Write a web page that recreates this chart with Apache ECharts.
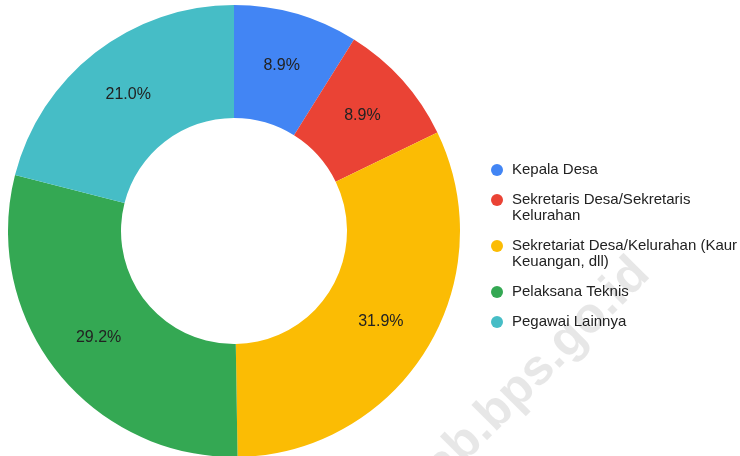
<!DOCTYPE html>
<html>
<head>
<meta charset="utf-8">
<script src="https://cdn.jsdelivr.net/npm/echarts@6/dist/echarts.min.js"></script>
<style>
  html, body { margin: 0; padding: 0; background: #fff; }
  #chart { width: 740px; height: 456px; }
</style>
</head>
<body>
<div id="chart"></div>
<script>
// ---- data ----
var categories = [
  'Kepala Desa',
  'Sekretaris Desa/Sekretaris\nKelurahan',
  'Sekretariat Desa/Kelurahan (Kaur\nKeuangan, dll)',
  'Pelaksana Teknis',
  'Pegawai Lainnya'
];
var values = [8.9, 8.9, 31.9, 29.2, 21.0];
var watermarkText = 'kab.bps.go.id';

// ---- styles ----
var colors = ['#4285f4', '#ea4335', '#fbbc04', '#34a853', '#46bdc6'];
var FONT = 'Arial, "Liberation Sans", sans-serif';

var rich = {
  g: { width: 9 },
  s: { width: 21 },
  t: { fontSize: 15, lineHeight: 16, color: '#222', fontFamily: FONT }
};
colors.forEach(function (c, i) {
  rich['d' + i] = { width: 12, height: 12, borderRadius: 6, backgroundColor: c };
});

var chart = echarts.init(document.getElementById('chart'), null, { renderer: 'canvas' });
chart.setOption({
  animation: false,
  color: colors,
  legend: {
    orient: 'vertical',
    left: 480,
    top: 157,
    icon: 'none',
    itemWidth: 1,
    itemHeight: 12,
    itemGap: 14,
    selectedMode: false,
    data: categories,
    textStyle: { fontSize: 15, lineHeight: 16, color: '#222', fontFamily: FONT, rich: rich },
    formatter: function (name) {
      var idx = categories.indexOf(name);
      return name.split('\n').map(function (line, i) {
        return (i === 0 ? '{d' + idx + '|}{g|}' : '{s|}') + '{t|' + line + '}';
      }).join('\n');
    }
  },
  series: [{
    type: 'pie',
    center: [234, 231],
    radius: [113, 226],
    startAngle: 90,
    clockwise: true,
    avoidLabelOverlap: false,
    silent: true,
    emphasis: { disabled: true },
    label: {
      show: true,
      position: 'inside',
      fontSize: 16,
      color: '#222',
      fontFamily: FONT,
      formatter: function (p) { return p.value.toFixed(1) + '%'; }
    },
    labelLine: { show: false },
    data: categories.map(function (n, i) { return { name: n, value: values[i] }; })
  }],
  graphic: [{
    type: 'text',
    x: 414,
    y: 494,
    rotation: Math.PI / 4,
    z: 100,
    silent: true,
    style: {
      text: watermarkText,
      font: 'bold 50px Arial, "Liberation Sans", sans-serif',
      fill: 'rgba(0,0,0,0.095)',
      textAlign: 'left',
      textVerticalAlign: 'middle'
    }
  }]
});
</script>
</body>
</html>
